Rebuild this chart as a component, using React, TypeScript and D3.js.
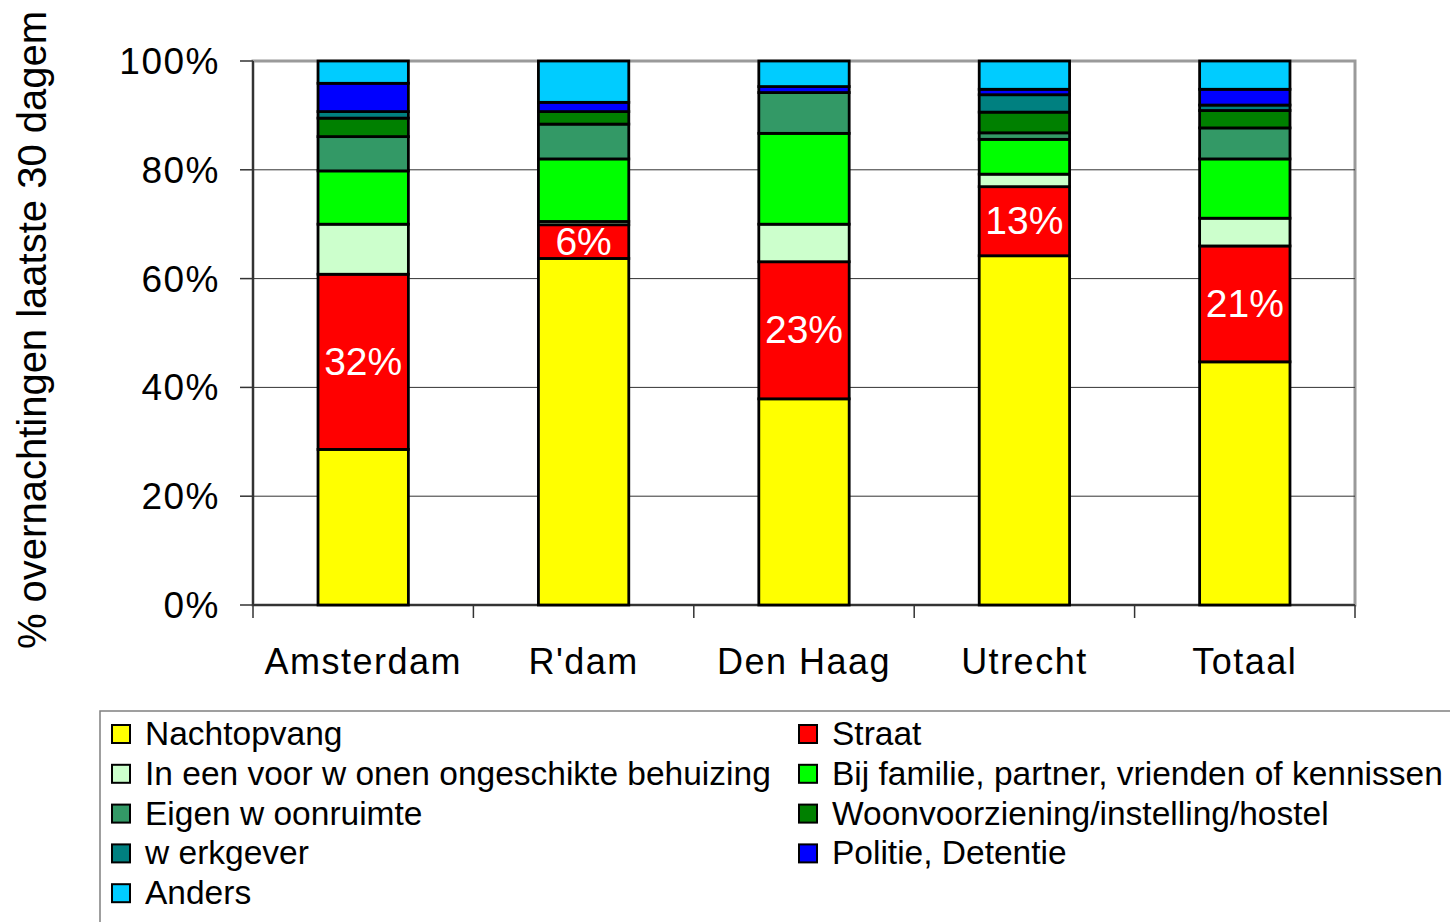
import React from "react";
import * as d3 from "d3";

const categories = ["Amsterdam", "R'dam", "Den Haag", "Utrecht", "Totaal"];
const seriesNames = [
  "Nachtopvang",
  "Straat",
  "In een voor w onen ongeschikte behuizing",
  "Bij familie, partner, vrienden of kennissen",
  "Eigen w oonruimte",
  "Woonvoorziening/instelling/hostel",
  "w erkgever",
  "Politie, Detentie",
  "Anders",
];
const seriesColors = ["#FFFF00", "#FF0000", "#CCFFCC", "#00FF00", "#339966", "#008000", "#008080", "#0000FF", "#00CCFF"];
// values per series, in category order
const nachtopvang = [28.6, 63.7, 37.9, 64.2, 44.7];
const straat = [32.2, 6.2, 25.2, 12.7, 21.3];
const inEen = [9.2, 0.6, 6.9, 2.3, 5.1];
const bijFamilie = [9.8, 11.5, 16.7, 6.4, 10.9];
const eigen = [6.3, 6.4, 7.5, 1.2, 5.7];
const woonvoorz = [3.4, 2.3, 0, 3.8, 3.2];
const werkgever = [1.2, 0, 0, 3.2, 1.0];
const politie = [5.2, 1.7, 1.1, 1.0, 2.9];
const anders = [4.1, 7.6, 4.7, 5.2, 5.2];
const straatLabels = ["32%", "6%", "23%", "13%", "21%"];
const yTicks = [0, 20, 40, 60, 80, 100];
const yTitle = "% overnachtingen laatste 30 dagem";

const seriesValues = [nachtopvang, straat, inEen, bijFamilie, eigen, woonvoorz, werkgever, politie, anders];

export default function App() {
  const W = 1450, H = 922;
  const left = 253, right = 1355, top = 61, bottom = 605;
  const font = "Arial, 'Liberation Sans', sans-serif";

  const x = d3.scaleBand<string>().domain(categories).range([left, right]).paddingInner(0).paddingOuter(0);
  const y = d3.scaleLinear().domain([0, 100]).range([bottom, top]);
  const barW = x.bandwidth() * 0.41;

  const table = categories.map((c, i) => {
    const row: any = { cat: c };
    seriesNames.forEach((s, j) => (row[s] = seriesValues[j][i]));
    return row;
  });
  const stacked = d3.stack<any>().keys(seriesNames)(table);

  const boundaries = d3.range(categories.length + 1).map((i) => left + i * x.step());

  return (
    <svg width={W} height={H} style={{ position: "absolute", left: 0, top: 0, background: "#fff" }}>
      {/* plot frame */}
      <rect x={left} y={top} width={right - left} height={bottom - top} fill="none" stroke="#9a9a9a" strokeWidth={3} />
      {/* gridlines */}
      {yTicks.filter((t) => t > 0 && t < 100).map((t) => (
        <line key={t} x1={left} x2={right} y1={y(t)} y2={y(t)} stroke="#333" strokeWidth={1} />
      ))}
      {/* y axis */}
      <line x1={left} x2={left} y1={top} y2={bottom} stroke="#333" strokeWidth={2} />
      {yTicks.map((t) => (
        <g key={t}>
          <line x1={left - 13} x2={left} y1={y(t)} y2={y(t)} stroke="#333" strokeWidth={1.5} />
          <text x={220} y={y(t) + 13} textAnchor="end" fontFamily={font} fontSize={37} letterSpacing={1.5} fill="#000">
            {t}%
          </text>
        </g>
      ))}
      {/* x axis */}
      <line x1={left} x2={right} y1={bottom} y2={bottom} stroke="#333" strokeWidth={2} />
      {boundaries.map((b, i) => (
        <line key={i} x1={b} x2={b} y1={bottom} y2={bottom + 13} stroke="#333" strokeWidth={1.5} />
      ))}
      {categories.map((c) => (
        <text key={c} x={(x(c) as number) + x.bandwidth() / 2} y={674} textAnchor="middle" fontFamily={font} fontSize={36} letterSpacing={1.5} fill="#000">
          {c}
        </text>
      ))}
      {/* bars */}
      {stacked.map((layer, j) => (
        <g key={layer.key}>
          {layer.map((d, i) => {
            const cx = (x(categories[i]) as number) + x.bandwidth() / 2;
            return (
              <rect
                key={i}
                x={cx - barW / 2}
                y={y(d[1])}
                width={barW}
                height={Math.max(0, y(d[0]) - y(d[1]))}
                fill={seriesColors[j]}
                stroke="#000"
                strokeWidth={2.8}
              />
            );
          })}
        </g>
      ))}
      {/* straat labels */}
      {stacked[1].map((d, i) => {
        const cx = (x(categories[i]) as number) + x.bandwidth() / 2;
        return (
          <text key={i} x={cx} y={y((d[0] + d[1]) / 2) + 13} textAnchor="middle" fontFamily={font} fontSize={39} fill="#fff">
            {straatLabels[i]}
          </text>
        );
      })}
      {/* y title */}
      <text
        transform={`translate(46, ${330}) rotate(-90)`}
        textAnchor="middle"
        fontFamily={font}
        fontSize={40}
        fill="#000"
      >
        {yTitle}
      </text>
      {/* legend */}
      <rect x={100} y={711} width={1360} height={220} fill="#fff" stroke="#808080" strokeWidth={1.5} />
      {seriesNames.map((s, j) => {
        const col = j % 2;
        const row = Math.floor(j / 2);
        const lx = col === 0 ? 112 : 799;
        const ly = 734 + row * 39.8;
        return (
          <g key={s}>
            <rect x={lx} y={ly - 9} width={18} height={18} fill={seriesColors[j]} stroke="#000" strokeWidth={2} />
            <text x={lx + 33} y={ly + 11} fontFamily={font} fontSize={33.5} fill="#000">
              {s}
            </text>
          </g>
        );
      })}
    </svg>
  );
}
